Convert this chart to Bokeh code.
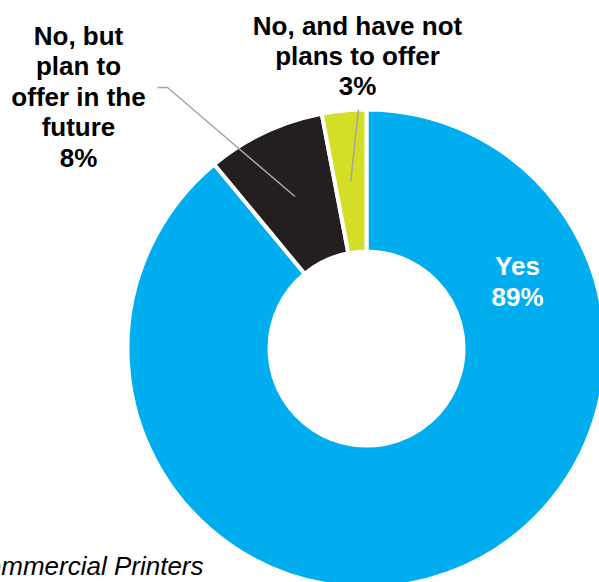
import math
from bokeh.plotting import figure
from bokeh.models import Range1d
from bokeh.core.properties import value
from bokeh.embed import file_html
from bokeh.resources import INLINE

# ---- data ----
categories = ["Yes", "No, but plan to offer in the future", "No, and have not plans to offer"]
label_lines = [["Yes", "89%"],
               ["No, but", "plan to", "offer in the", "future", "8%"],
               ["No, and have not", "plans to offer", "3%"]]
shares = [89, 8, 3]
colors = ["#00AEEF", "#231F20", "#D4DE26"]
source_note = "Commercial Printers"

W, H = 599, 582
p = figure(width=W, height=H, output_backend="svg", toolbar_location=None,
           x_range=Range1d(0, W), y_range=Range1d(0, H), min_border=0)
p.axis.visible = False
p.grid.visible = False
p.outline_line_color = None
p.background_fill_color = "white"

cx, cy = 366, 582 - 348
r_out, r_in = 239, 97

total = float(sum(shares))
starts, ends, mids = [], [], []
a = math.pi / 2
for s in shares:
    span = s / total * 2 * math.pi
    starts.append(a)
    ends.append(a - span)
    mids.append(a - span / 2)
    a -= span

p.annular_wedge(x=[cx] * 3, y=[cy] * 3, inner_radius=r_in, outer_radius=r_out,
                start_angle=starts, end_angle=ends, direction="clock",
                fill_color=colors, line_color="white", line_width=4)

# leader lines
lead_r = 168
grey = "#A6A6A6"
# black slice
ex = cx + lead_r * math.cos(mids[1]); ey = cy + lead_r * math.sin(mids[1])
p.line(x=[157, 167, ex], y=[582 - 87, 582 - 87, ey], line_color=grey, line_width=1.5)
# yellow slice
ex2 = cx + lead_r * math.cos(mids[2]); ey2 = cy + lead_r * math.sin(mids[2])
p.line(x=[358, ex2], y=[582 - 109, ey2], line_color=grey, line_width=1.5)

font = value("Liberation Sans")
label_pos = [(517, 265, 31, "white"), (78, 35, 30.5, "black"), (357, 25, 30, "black")]
for lines, (lx, ly, step, col) in zip(label_lines, label_pos):
    p.text(x=[lx] * len(lines), y=[582 - (ly + i * step) for i in range(len(lines))],
           text=lines, text_align="center", text_baseline="alphabetic",
           text_font=font, text_font_style="bold", text_font_size="26px",
           text_color=col)

p.text(x=[203], y=[582 - 565], text=[source_note], text_align="right",
       text_baseline="alphabetic", text_font=font, text_font_style="italic",
       text_font_size="26px", text_color="black")

open("out.html", "w").write(file_html(p, INLINE))
